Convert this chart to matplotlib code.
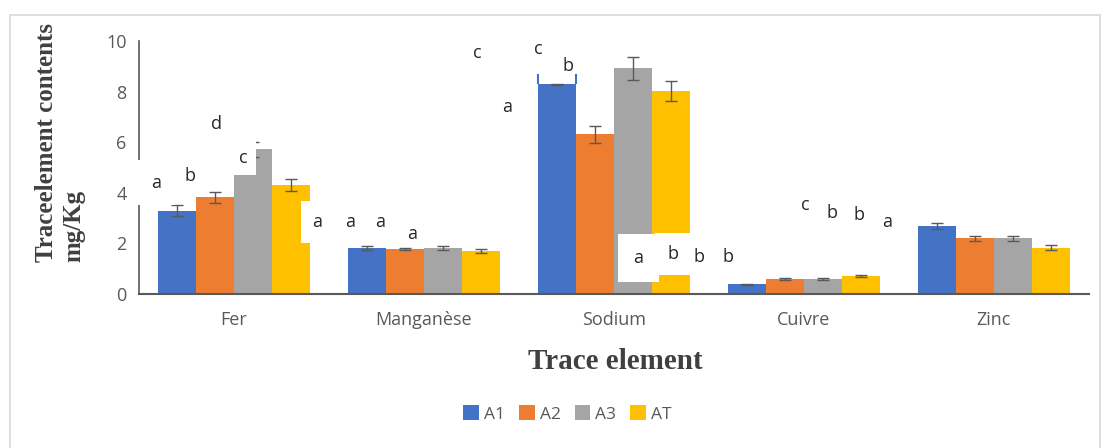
import matplotlib.pyplot as plt
from matplotlib.patches import Rectangle
import numpy as np

# trace element contents (mg/Kg)
elements = ['Fer', 'Manganèse', 'Sodium', 'Cuivre', 'Zinc']
series = ['A1', 'A2', 'A3', 'AT']
A1 = [3.3, 1.82, 8.3, 0.38, 2.7]
A2 = [3.83, 1.78, 6.32, 0.6, 2.21]
A3 = [5.73, 1.82, 8.93, 0.6, 2.2]
AT = [4.31, 1.7, 8.02, 0.7, 1.82]
A1_err = [0.2, 0.07, 0.02, 0.03, 0.12]
A2_err = [0.22, 0.03, 0.33, 0.04, 0.1]
A3_err = [0.3, 0.07, 0.45, 0.04, 0.1]
AT_err = [0.22, 0.07, 0.4, 0.04, 0.1]

# significance letters as they sit on the picture
letters = ['a', 'b', 'd', 'c', 'a', 'a', 'a', 'a', 'c', 'a',
           'c', 'b', 'a', 'b', 'b', 'b', 'c', 'b', 'b', 'a']
letter_x = [-0.41, -0.23, -0.09, 0.05, 0.44, 0.61, 0.77, 0.94, 1.28, 1.44,
            1.60, 1.76, 2.13, 2.31, 2.45, 2.60, 3.01, 3.15, 3.29, 3.44]
letter_y = [4.4, 4.66, 6.72, 5.38, 2.85, 2.85, 2.85, 2.37, 9.53, 7.39,
            9.68, 9.01, 1.42, 1.58, 1.46, 1.46, 3.52, 3.20, 3.12, 2.85]
# white boxes behind some letters (pad, in fontsize units); 0 = no box
letter_pad = [0.75, 0, 0, 0.45, 0.65, 0, 0, 0, 0, 0,
              0, 0, 0.85, 0.65, 0, 0, 0, 0, 0, 0]

colors = ['#4472C4', '#ED7D31', '#A5A5A5', '#FFC000']
values = [A1, A2, A3, AT]
errors = [A1_err, A2_err, A3_err, AT_err]

fig = plt.figure(figsize=(11.04, 4.48), dpi=100)
fig.patches.append(Rectangle((0.009, -0.05), 0.987, 1.017, transform=fig.transFigure,
                             fill=False, edgecolor='#d9d9d9', linewidth=1.2))
ax = fig.add_axes([0.126, 0.344, 0.86, 0.564])

x = np.arange(len(elements))
w = 0.2
bars = []
for i in range(4):
    b = ax.bar(x + (i - 1.5) * w, values[i], w, color=colors[i], label=series[i],
               yerr=errors[i], capsize=4,
               error_kw=dict(ecolor='#595959', elinewidth=1, capthick=1), zorder=2)
    bars.append(b)

# odd blue outline above the sodium A1 bar
r = bars[0][2]
ax.vlines([r.get_x(), r.get_x() + r.get_width()], r.get_height(), 8.7,
          color='#4472C4', lw=1.5, zorder=3)

for s, lx, ly, p in zip(letters, letter_x, letter_y, letter_pad):
    kw = {}
    if p > 0:
        kw['bbox'] = dict(facecolor='white', edgecolor='none', pad=p * 13)
    ax.text(lx, ly, s, ha='center', va='center', fontsize=13,
            family='Open Sans', color='#262626', zorder=5, **kw)

ax.set_xlim(-0.5, 4.5)
ax.set_ylim(0, 10)
ax.set_yticks([0, 2, 4, 6, 8, 10])
ax.set_xticks(x)
ax.set_xticklabels(elements)
ax.tick_params(axis='both', length=0, labelsize=13, labelcolor='#595959')
for t in ax.get_xticklabels() + ax.get_yticklabels():
    t.set_family('Open Sans')
ax.tick_params(axis='x', pad=12)
ax.tick_params(axis='y', pad=9)
for sp in ['top', 'right']:
    ax.spines[sp].set_visible(False)
ax.spines['left'].set_color('#595959')
ax.spines['bottom'].set_color('#595959')
ax.spines['bottom'].set_linewidth(1.5)
ax.spines['left'].set_linewidth(1.2)

ax.set_ylabel('Traceelement contents\nmg/Kg', fontsize=18, family='Liberation Serif',
              fontweight='bold', color='#404040', multialignment='left')
ax.yaxis.set_label_coords(-0.057, 0.6)
ax.set_xlabel('Trace element', fontsize=21, family='Liberation Serif',
              fontweight='bold', color='#404040')
ax.xaxis.set_label_coords(0.502, -0.215)

leg = fig.legend(loc='center', bbox_to_anchor=(0.514, 0.076), ncol=4, frameon=False,
                 prop={'family': 'Open Sans', 'size': 12.5}, handlelength=0.9,
                 handleheight=0.9, handletextpad=0.3, columnspacing=0.8)
for t in leg.get_texts():
    t.set_color('#595959')

fig.savefig('out.png', dpi=100)
